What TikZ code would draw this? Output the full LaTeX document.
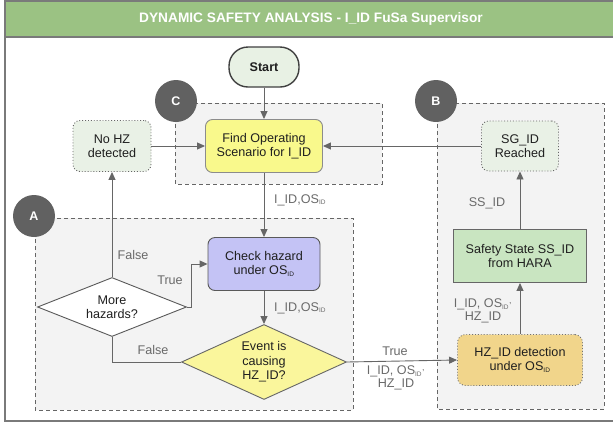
\documentclass[tikz,border=0pt]{standalone}
\usepackage{fontspec}
\setmainfont{Liberation Sans}
\usetikzlibrary{shapes.geometric,arrows.meta}
\definecolor{titlegreen}{HTML}{9BC283}
\definecolor{framegray}{HTML}{7A7A7A}
\definecolor{linegray}{HTML}{666666}
\definecolor{labelgray}{HTML}{6A6A6A}
\definecolor{groupfill}{HTML}{F3F3F3}
\definecolor{circlegray}{HTML}{616161}
\definecolor{startfill}{HTML}{E8F1E4}
\definecolor{paleGreen}{HTML}{E9F1E6}
\definecolor{findfill}{HTML}{F9F98C}
\definecolor{checkfill}{HTML}{C4C3F5}
\definecolor{eventfill}{HTML}{FAF69C}
\definecolor{hzfill}{HTML}{F1D58B}
\definecolor{safefill}{HTML}{C9E5C1}
\newcommand{\idsub}{\textsubscript{\fontsize{6.5}{6.5}\selectfont ID}}
\tikzset{
  basefont/.style={font=\fontsize{12.6}{14.5}\selectfont, text=black!88},
  box/.style={basefont, draw=linegray, line width=0.9pt, align=center, inner sep=2pt},
  groupbox/.style={draw=linegray, dashed, dash pattern=on 4pt off 3pt, fill=groupfill, line width=0.9pt},
  badge/.style={circle, fill=circlegray, minimum size=42pt, inner sep=0pt, text=white, font=\fontsize{12.5}{14}\selectfont\bfseries},
  conn/.style={draw=linegray, line width=0.9pt, -{Triangle[length=8pt,width=7pt]}},
  plainline/.style={draw=linegray, line width=0.9pt},
  lbl/.style={font=\fontsize{12.6}{14}\selectfont, text=labelgray, align=center, inner sep=1pt},
}
\begin{document}
\begin{tikzpicture}[x=1pt,y=-1pt]
\useasboundingbox (0,0) rectangle (613,424);
% frame and title
\fill[white] (5,1) rectangle (613,421);
\fill[titlegreen] (5,1) rectangle (613,37);
\draw[framegray, line width=1.5pt] (613,1) -- (5,1) -- (5,421) -- (613,421);
\draw[framegray, line width=1.5pt] (5,37) -- (613,37);
\node[text=white, font=\fontsize{13.7}{15}\selectfont\bfseries] (title) at (311,19) {DYNAMIC SAFETY ANALYSIS - I\_ID FuSa Supervisor};
% group boxes
\draw[groupbox] (175,103) rectangle (382,184);
\draw[groupbox] (437,103) rectangle (604,409);
\draw[groupbox] (35,218) rectangle (353,410);
\node[badge] (bC) at (176,101) {C};
\node[badge] (bB) at (436,101) {B};
\node[badge] (bA) at (34,216) {A};
% nodes
\node[box, font=\fontsize{12.6}{14}\selectfont\bfseries, fill=startfill, draw=black!75, line width=1.4pt, rounded corners=19pt, minimum width=70pt, minimum height=40pt] (start) at (264,67) {Start};
\node[box, fill=findfill, draw=black!45, rounded corners=7pt, minimum width=117pt, minimum height=53pt] (find) at (264,146) {Find Operating\\Scenario for I\_ID};
\node[box, fill=paleGreen, dotted, rounded corners=7pt, minimum width=78pt, minimum height=51pt] (nohz) at (112,146) {No HZ\\detected};
\node[box, fill=paleGreen, dotted, rounded corners=7pt, minimum width=77pt, minimum height=50pt] (sg) at (520,146) {SG\_ID\\Reached};
\node[box, fill=safefill, minimum width=133pt, minimum height=53pt] (safety) at (520,256) {Safety State SS\_ID\\from HARA};
\node[box, fill=hzfill, dotted, draw=black!55, rounded corners=8pt, minimum width=125pt, minimum height=51pt] (hzdet) at (520,360) {HZ\_ID detection\\under OS\idsub};
\node[box, fill=checkfill, draw=black!65, rounded corners=7pt, minimum width=112pt, minimum height=53pt] (check) at (264,264) {Check hazard\\under OS\idsub};
\node[box, diamond, fill=white, draw=black!65, inner sep=0pt, aspect=2.5, minimum width=149pt, minimum height=59pt] (more) at (112,307) {More\\hazards?};
\node[box, diamond, fill=eventfill, inner sep=0pt, aspect=2.2, minimum width=165pt, minimum height=75pt] (event) at (264,362) {Event is\\causing\\HZ\_ID?};
% connectors
\draw[conn] (start) -- (find);
\draw[conn] (nohz) -- (find);
\draw[conn] (sg) -- (find);
\draw[conn] (find) -- (check);
\draw[conn] (check) -- (event);
\draw[conn] (more.north) -- (nohz.south);
\draw[conn] (more.east) -- ++(4,0) |- (check.west);
\draw[plainline] (event.west) -| (more.south);
\draw[conn] (event.east) -- (hzdet.west);
\draw[conn] (hzdet) -- (safety);
\draw[conn] (safety) -- (sg);
% labels
\node[lbl, anchor=west] (l1) at (273,200) {I\_ID,OS\idsub};
\node[lbl, anchor=west] (l2) at (273,308) {I\_ID,OS\idsub};
\node[lbl] (l3) at (133,255) {False};
\node[lbl] (l4) at (170,280) {True};
\node[lbl] (l5) at (153,350) {False};
\node[lbl] (l6) at (395,351) {True};
\node[lbl, font=\fontsize{12.6}{13}\selectfont] (l7) at (396,378) {I\_ID, OS\idsub\textsuperscript{,}\\HZ\_ID};
\node[lbl] (l8) at (487,203) {SS\_ID};
\node[lbl, font=\fontsize{12.6}{13}\selectfont] (l9) at (483,311) {I\_ID, OS\idsub\textsuperscript{,}\\HZ\_ID};
\end{tikzpicture}
\end{document}
